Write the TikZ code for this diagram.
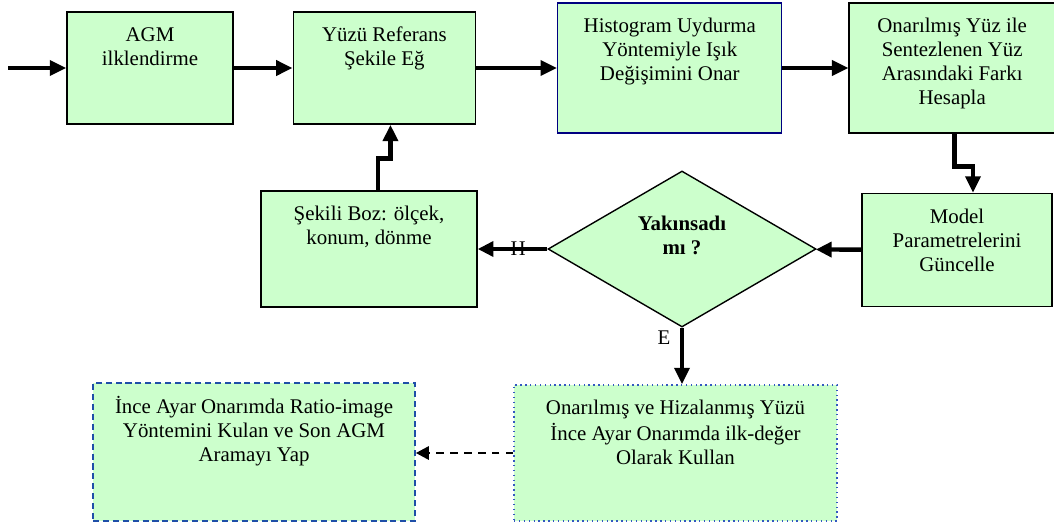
\documentclass[tikz,border=0pt]{standalone}
\usepackage{fontspec}
\setmainfont{Liberation Serif}
\usetikzlibrary{shapes.geometric,positioning,arrows.meta}
\definecolor{boxgreen}{HTML}{CCFFCC}
\definecolor{navyline}{HTML}{000080}
\definecolor{dashblue}{HTML}{1F4FA8}
\definecolor{dotblue}{HTML}{3358C0}
\newcommand{\btext}[4][7.4pt]{\parbox[c][#3][t]{#2}{\centering\vspace*{#1}\strut #4}}

\begin{document}
\begin{tikzpicture}[x=0.575pt,y=-0.575pt,font=\fontsize{12}{13.8}\selectfont,
  blk/.style={draw,fill=boxgreen,line width=0.8pt,inner sep=0pt},
  decision/.style={draw,fill=boxgreen,shape=diamond,aspect=1.7,minimum width=154.1pt,minimum height=89.7pt,inner sep=0pt,line width=0.8pt},
  flow/.style={-{Triangle[length=9.5pt,width=8.5pt]},line width=2.8pt},
  thinflow/.style={-{Triangle[length=9pt,width=8.5pt]},line width=2.5pt},
  dashflow/.style={-{Triangle[length=7.5pt,width=7.5pt]},line width=1.6pt,dash pattern=on 4.5pt off 3.5pt}]
	\useasboundingbox (0,0) rectangle (1054,523);
	\coordinate (in) at (8,68);
	\node[blk] (agm) at (150,68) {\btext{95.45pt}{64.4pt}{AGM\\ilklendirme}};
	\node[blk,right=33.9pt of agm] (ref) {\btext{104.65pt}{64.4pt}{Yüzü Referans\\Şekile Eğ}};
	\node[blk,draw=navyline,right=46.6pt of ref] (hist) {\btext{128.8pt}{74.75pt}{Histogram Uydurma\\Yöntemiyle Işık\\Değişimini Onar}};
	\node[blk,right=37.95pt of hist] (fark) {\btext{118.45pt}{74.75pt}{Onarılmış Yüz ile\\Sentezlenen Yüz\\Arasındaki Farkı\\Hesapla}};
	\node[blk] (model) at (957,250) {\btext{109.25pt}{65pt}{Model\\Parametrelerini\\Güncelle}};
	\node[decision] (conv) at (682,249) {\btext[0pt]{62pt}{41pt}{\bfseries Yakınsadı\\mı ?}};
	\node[blk] (sekil) at (369,249) {\btext{124.2pt}{66.7pt}{Şekili Boz: ölçek,\\konum, dönme}};
	\node[blk,draw=dotblue,dotted,line width=0.8pt] (init) at (675.5,453) {\btext{185.7pt}{78.2pt}{Onarılmış ve Hizalanmış Yüzü\\İnce Ayar Onarımda ilk-değer\\Olarak Kullan}};
	\node[blk,draw=dashblue,dash pattern=on 3.5pt off 2.2pt,line width=0.9pt] (fine) at (254,452) {\btext{185.15pt}{79.35pt}{İnce Ayar Onarımda Ratio-image\\Yöntemini Kulan ve Son AGM\\Aramayı Yap}};
	\draw[flow] (in) -- (agm);
	\draw[flow] (agm) -- (ref);
	\draw[flow] (ref) -- (hist);
	\draw[flow] (hist) -- (fark);
	\draw[flow] ([xshift=1.15pt]fark.south) -- ++(0,33) -| ([xshift=9.2pt]model.north);
	\draw[thinflow] (model) -- (conv);
	\draw[thinflow] (conv) -- node[pos=0.42] {H} (sekil);
	\draw[flow] ([xshift=5.2pt]sekil.north) -- ++(0,-32) -| ([xshift=3.5pt]ref.south);
	\draw[flow] (conv.south) -- node[pos=0.17,left,xshift=-2pt] {E} (conv.south |- init.north);
	\draw[dashflow] (init.west) -- (init.west -| fine.east);
\end{tikzpicture}
\end{document}
